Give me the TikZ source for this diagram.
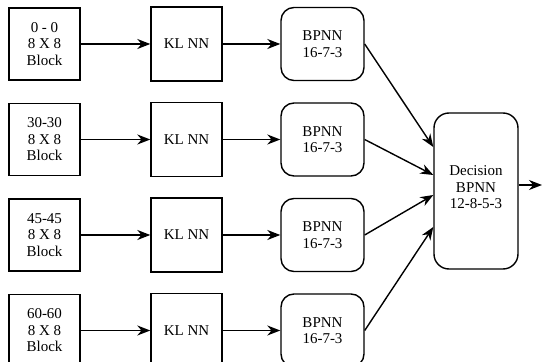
\documentclass[tikz,border=0pt]{standalone}
\usepackage{fontspec}
\setmainfont{Liberation Serif}
\usetikzlibrary{arrows.meta,positioning,calc}
\begin{document}
\begin{tikzpicture}[x=1pt,y=1pt,
  every node/.style={font=\fontsize{15}{16.5}\selectfont, align=center, inner sep=0pt},
  blockbox/.style={draw, line width=1.4pt, minimum width=71pt, minimum height=72pt},
  klbox/.style={draw, line width=1.4pt, minimum width=71pt, minimum height=74pt},
  bpbox/.style={draw, line width=1.4pt, rounded corners=13pt, minimum width=83pt, minimum height=73pt},
  decbox/.style={draw, line width=1.4pt, rounded corners=15pt, minimum width=84pt, minimum height=156pt},
  arr/.style={line width=1.4pt, -{Stealth[length=13pt,width=10pt]}}
]
\useasboundingbox (0,0) rectangle (542,362);
\node[blockbox] (a1) at (44.5,318) {0 - 0\\8 X 8\\Block};
\node[blockbox] (a2) at (44.5,222.5) {30-30\\8 X 8\\Block};
\node[blockbox] (a3) at (44.5,127) {45-45\\8 X 8\\Block};
\node[blockbox] (a4) at (44.5,31.5) {60-60\\8 X 8\\Block};
\node[klbox] (k1) at (186.5,318) {KL NN};
\node[klbox] (k2) at (186.5,222.5) {KL NN};
\node[klbox] (k3) at (186.5,127) {KL NN};
\node[klbox] (k4) at (186.5,31.5) {KL NN};
\node[bpbox] (b1) at (322.5,318) {BPNN\\16-7-3};
\node[bpbox] (b2) at (322.5,222.5) {BPNN\\16-7-3};
\node[bpbox] (b3) at (322.5,127) {BPNN\\16-7-3};
\node[bpbox] (b4) at (322.5,31.5) {BPNN\\16-7-3};
\node[decbox] (dec) at (476,171) {};
\node (dect) at (476,174.5) {Decision\\BPNN\\12-8-5-3};
\coordinate (out) at (542,177);
\foreach \i in {1,2,3,4}{
  \draw[arr] (a\i.east) -- (k\i.west);
  \draw[arr] (k\i.east) -- (b\i.west);
}
\draw[arr] (b1.east) -- ([yshift=44pt]dec.west);
\draw[arr] (b2.east) -- ([yshift=16pt]dec.west);
\draw[arr] (b3.east) -- ([yshift=-4pt]dec.west);
\draw[arr] (b4.east) -- ([yshift=-36pt]dec.west);
\draw[arr] (dec.east |- out) -- (out);
\end{tikzpicture}
\end{document}
